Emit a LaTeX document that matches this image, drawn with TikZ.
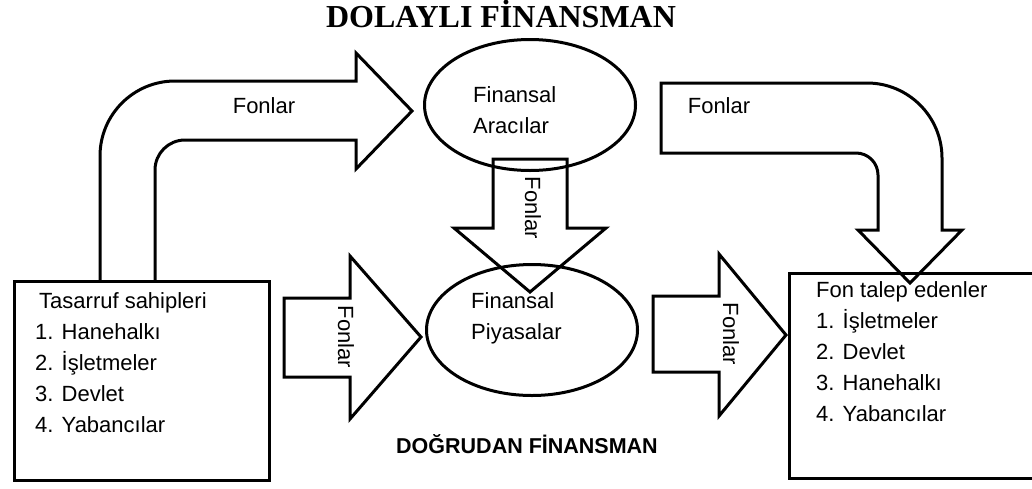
\documentclass[tikz,border=0pt]{standalone}
\usepackage{fontspec}
\setmainfont{Liberation Serif}
\setsansfont{Liberation Sans}
\usepackage{tikz}
\usetikzlibrary{arrows,calc,positioning,shapes.geometric}
\tikzstyle{listbox} = [rectangle, draw=black, line width=3pt, inner sep=0pt]
\tikzstyle{inst} = [ellipse, draw=black, line width=3pt, minimum width=211pt, minimum height=131pt, inner sep=0pt]
\tikzstyle{listtext} = [align=left, anchor=north west, inner sep=0pt, font=\sffamily\fontsize{22}{31}\selectfont]
\tikzstyle{fon} = [inner sep=0pt, anchor=base, font=\sffamily\fontsize{22}{26}\selectfont]
\tikzstyle{fonv} = [inner sep=0pt, rotate=-90, font=\sffamily\fontsize{22}{26}\selectfont]
\tikzstyle{bigarrow} = [draw=black, line width=3pt, line join=miter]

\begin{document}
\begin{tikzpicture}[x=1pt, y=-1pt]
\useasboundingbox (0,0) rectangle (1032,488);
\clip (0,0) rectangle (1032,488);

\node (title) [anchor=base, inner sep=0pt, font=\bfseries\fontsize{32}{36}\selectfont] at (501,27) {DOLAYLI FİNANSMAN};

\node (savers) [listbox, minimum width=255pt, minimum height=199pt] at (142,381) {};
\node (savers_txt) [listtext] at (35,292) {\hspace*{4pt}Tasarruf sahipleri\\1. Hanehalkı\\2. İşletmeler\\3. Devlet\\4. Yabancılar};

\node (users) [listbox, minimum width=256pt, minimum height=205pt] at (917,376) {};
\node (users_txt) [listtext] at (816,281) {Fon talep edenler\\1. İşletmeler\\2. Devlet\\3. Hanehalkı\\4. Yabancılar};

\node (aracilar) [inst] at (530,105) {};
\node (aracilar_txt) [listtext] at (473,86) {Finansal\\Aracılar};
\node (piyasalar) [inst] at (532,330) {};
\node (piyasalar_txt) [listtext] at (471,292) {Finansal\\Piyasalar};

\node (direct) [anchor=base, inner sep=0pt, font=\sffamily\bfseries\fontsize{21.5}{25}\selectfont] at (527,453) {DOĞRUDAN FİNANSMAN};

% dolayli: tasarruf -> aracilar -> fon talep edenler
\draw [bigarrow] (100,281) -- (100,156) arc[start angle=180, end angle=270, radius=75] -- (356,81) -- (356,53) -- (412,111) -- (356,169) -- (356,140) -- (185,140) arc[start angle=270, end angle=180, radius=30] -- (155,281);
\draw [bigarrow] (661,118) -- (661,83) -- (867,83) arc[start angle=270, end angle=360, radius=75] -- (942,230) -- (962,230) -- (910,283) -- (858,230) -- (878,230) -- (878,175) arc[start angle=0, end angle=-90, radius=22] -- (661,153) -- cycle;
\draw [bigarrow] (493,159) -- (567,159) -- (567,228) -- (606,228) -- (530,292) -- (454,228) -- (493,228) -- cycle;

% dogrudan
\draw [bigarrow] (284,298) -- (350,298) -- (350,256) -- (421,337) -- (350,419) -- (350,377) -- (284,377) -- cycle;
\draw [bigarrow] (653,296) -- (719,296) -- (719,254) -- (786,335) -- (719,416) -- (719,372) -- (653,372) -- cycle;

\node (fon1) [fon] at (264,113) {Fonlar};
\node (fon2) [fon] at (719,113) {Fonlar};
\node (fon3) [fonv] at (533,208) {Fonlar};
\node (fon4) [fonv] at (346,337) {Fonlar};
\node (fon5) [fonv] at (731,334) {Fonlar};

\end{tikzpicture}
\end{document}
